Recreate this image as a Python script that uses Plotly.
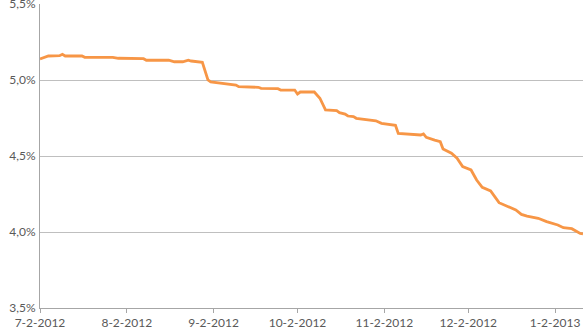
import plotly.graph_objects as go

dates = ["2012-07-02","2012-07-04","2012-07-05","2012-07-09","2012-07-10","2012-07-11","2012-07-17","2012-07-18",
         "2012-07-28","2012-07-30","2012-08-08","2012-08-09","2012-08-17","2012-08-19","2012-08-22","2012-08-24",
         "2012-08-25","2012-08-29","2012-08-31","2012-09-01","2012-09-06","2012-09-07","2012-09-10","2012-09-11",
         "2012-09-18","2012-09-19","2012-09-25","2012-09-26","2012-10-01","2012-10-02","2012-10-03","2012-10-08",
         "2012-10-10","2012-10-12","2012-10-16","2012-10-17","2012-10-19","2012-10-20","2012-10-22","2012-10-23",
         "2012-10-26","2012-10-30","2012-11-01","2012-11-04","2012-11-06","2012-11-07","2012-11-14","2012-11-15",
         "2012-11-16","2012-11-17","2012-11-20","2012-11-22","2012-11-23","2012-11-26","2012-11-28","2012-11-30",
         "2012-12-03","2012-12-05","2012-12-07","2012-12-10","2012-12-13","2012-12-16","2012-12-19","2012-12-21",
         "2012-12-23","2012-12-27","2012-12-30","2013-01-03","2013-01-05","2013-01-08","2013-01-11","2013-01-12"]
rates = [5.138,5.149,5.158,5.160,5.169,5.158,5.158,5.149,
         5.149,5.143,5.140,5.130,5.130,5.120,5.120,5.130,
         5.125,5.116,5.000,4.987,4.978,4.972,4.967,4.956,
         4.952,4.945,4.943,4.934,4.934,4.908,4.921,4.921,
         4.880,4.803,4.798,4.785,4.776,4.763,4.759,4.748,
         4.741,4.732,4.715,4.709,4.702,4.649,4.638,4.638,
         4.645,4.623,4.605,4.594,4.546,4.518,4.485,4.430,
         4.408,4.342,4.294,4.270,4.193,4.171,4.145,4.116,
         4.105,4.090,4.068,4.046,4.028,4.022,3.991,3.988]

tick_dates = ["2012-07-02","2012-08-02","2012-09-02","2012-10-02","2012-11-02","2012-12-02","2013-01-02"]
tick_labels = ["7-2-2012","8-2-2012","9-2-2012","10-2-2012","11-2-2012","12-2-2012","1-2-2013"]
y_ticks = [3.5, 4.0, 4.5, 5.0, 5.5]
y_labels = ["3,5%", "4,0%", "4,5%", "5,0%", "5,5%"]

fig = go.Figure()
fig.add_trace(go.Scatter(x=dates, y=rates, mode="lines",
                         line=dict(color="#F79646", width=2.8), hoverinfo="skip"))

fig.update_layout(
    width=585, height=328,
    margin=dict(l=40, r=2, t=4, b=20),
    paper_bgcolor="white", plot_bgcolor="white",
    showlegend=False,
    font=dict(family="Lato, Open Sans, sans-serif", size=12, color="#595959"),
    xaxis=dict(type="date", range=["2012-07-02", "2013-01-12"],
               tickvals=tick_dates, ticktext=tick_labels, automargin=False,
               ticklabeloverflow="allow",
               showgrid=False, showline=True, linecolor="#A6A6A6", linewidth=1,
               ticks="outside", ticklen=4, tickcolor="#A6A6A6", zeroline=False),
    yaxis=dict(range=[3.5, 5.5], tickvals=y_ticks, ticktext=y_labels, automargin=False,
               ticklabeloverflow="allow",
               showgrid=True, gridcolor="#BFBFBF", gridwidth=1,
               showline=True, linecolor="#A6A6A6", linewidth=1,
               ticks="", ticklabelstandoff=1, zeroline=False),
)

fig.write_html("out.html", config={"displayModeBar": False},
               post_script="document.body.style.margin='0';document.body.style.padding='0';")
